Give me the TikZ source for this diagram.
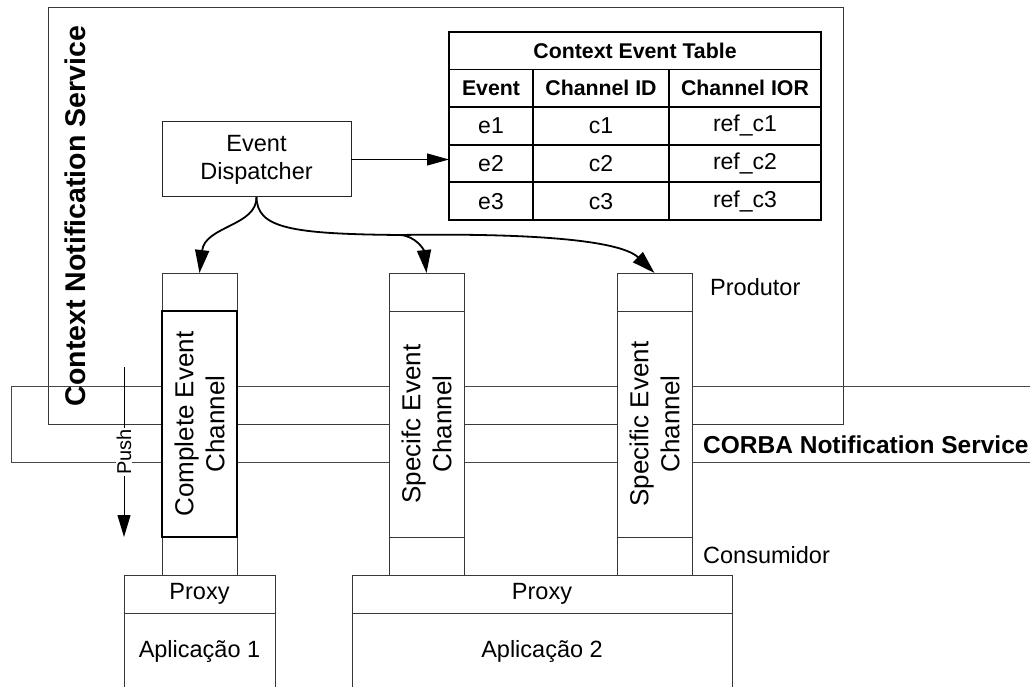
\documentclass[tikz,border=0pt]{standalone}
\usepackage{fontspec}
\setmainfont{Liberation Sans}
\usetikzlibrary{arrows.meta}
\begin{document}
\begin{tikzpicture}[x=1pt,y=-1pt,
  thinline/.style={draw=black!72, line width=1pt},
  box/.style={draw=black!78, line width=1pt, fill=white, inner sep=0pt, outer sep=0pt, anchor=north west},
  txt/.style={font=\fontsize{23.5}{28}\selectfont},
  cell/.style={draw=black, line width=1.7pt, inner sep=0pt, outer sep=0pt, anchor=north west, font=\fontsize{23}{27}\selectfont},
  headcell/.style={cell, font=\bfseries\fontsize{21.3}{26}\selectfont},
  chan/.style={rotate=90, align=center, inner sep=0pt, font=\fontsize{26}{31}\selectfont},
  curvearr/.style={-{Triangle[length=23pt,width=14pt]}, line width=1.8pt},
  straightarr/.style={-{Triangle[length=22pt,width=12pt]}, line width=1pt},
]
\useasboundingbox (0,0) rectangle (1030,687);
\clip (0,0) rectangle (1030,687);

% Context Notification Service frame
\node[box, fill=none, minimum width=795, minimum height=416] (cns) at (48,8) {};

% CORBA band
\coordinate (bandTR) at (1045,386);
\coordinate (bandTL) at (11,386);
\coordinate (bandBL) at (11,462);
\coordinate (bandBR) at (1045,462);
\draw[thinline] (bandTR) -- (bandTL) -- (bandBL) -- (bandBR);

% Channel columns
\foreach \n/\x in {1/162, 2/389, 3/617} {
  \node[box, minimum width=75, minimum height=38] (top\n) at (\x,273) {};
  \node[box, minimum width=75, minimum height=38] (bot\n) at (\x,537) {};
}
\node[box, draw=black, line width=1.8pt, minimum width=75, minimum height=226] (mid1) at (162,311) {};
\node[box, minimum width=75, minimum height=226] (mid2) at (389,311) {};
\node[box, minimum width=75, minimum height=226] (mid3) at (617,311) {};
\node[chan] (t1) at (mid1.center) {Complete Event\\Channel};
\node[chan] (t2) at (mid2.center) {Specifc Event\\Channel};
\node[chan] (t3) at (mid3.center) {Specific Event\\Channel};

% Proxies and applications
\node[box, txt, minimum width=151, minimum height=38] (proxy1) at (124,575) {Proxy};
\node[box, txt, minimum width=151, minimum height=76] (app1) at (124,613) {Aplicação 1};
\node[box, txt, minimum width=380, minimum height=38] (proxy2) at (352,575) {Proxy};
\node[box, txt, minimum width=380, minimum height=76] (app2) at (352,613) {Aplicação 2};

% Event dispatcher
\node[box, txt, draw=black!85, align=center, minimum width=189, minimum height=75] (disp) at (162,122) {Event\\Dispatcher};

% Context Event Table
\node[headcell, minimum width=372, minimum height=37.5] (title) at (449,32) {Context Event Table};
\node[headcell, minimum width=84, minimum height=37.6] (h1) at (449,69.5) {Event};
\node[headcell, minimum width=136, minimum height=37.6] (h2) at (533,69.5) {Channel ID};
\node[headcell, minimum width=152, minimum height=37.6] (h3) at (669,69.5) {Channel IOR};
\foreach \r/\y in {1/107.1, 2/144.7, 3/182.3} {
  \node[cell, minimum width=84, minimum height=37.6] (e\r) at (449,\y) {e\r};
  \node[cell, minimum width=136, minimum height=37.6] (c\r) at (533,\y) {c\r};
  \node[cell, minimum width=152, minimum height=37.6] (ref\r) at (669,\y) {ref\_c\r};
}

% Arrows
\draw[straightarr] (disp.east) -- (disp.east -| title.west);
\coordinate (split) at (400,235);
\draw[curvearr] (disp.south) .. controls (257,226) and (205,226) .. (top1.north);
\draw[line width=1.8pt] (disp.south) .. controls (257,228) and (290,234) .. (split);
\draw[curvearr] (split) .. controls (416,236) and (424,250) .. (top2.north);
\draw[curvearr] (split) .. controls (530,233) and (620,240) .. (top3.north);

% Push arrow
\coordinate (pushA) at (124,367);
\coordinate (pushB) at (124,537);
\draw[-{Triangle[length=22pt,width=13pt]}, line width=1pt] (pushA) -- (pushB)
  node[pos=0.5, rotate=90, fill=white, inner sep=1pt, font=\fontsize{20}{24}\selectfont] (pushl) {Push};

% Labels
\node[rotate=90, anchor=base, inner sep=0pt, font=\bfseries\fontsize{28.5}{32}\selectfont] (cnsl) at (85,216) {Context Notification Service};
\node[anchor=base west, inner sep=0pt, font=\bfseries\fontsize{24.5}{28}\selectfont] (corbal) at (703,453) {CORBA Notification Service};
\node[anchor=base west, inner sep=0pt, txt] (prod) at (710,295) {Produtor};
\node[anchor=base west, inner sep=0pt, txt] (cons) at (703,563) {Consumidor};
\end{tikzpicture}
\end{document}
